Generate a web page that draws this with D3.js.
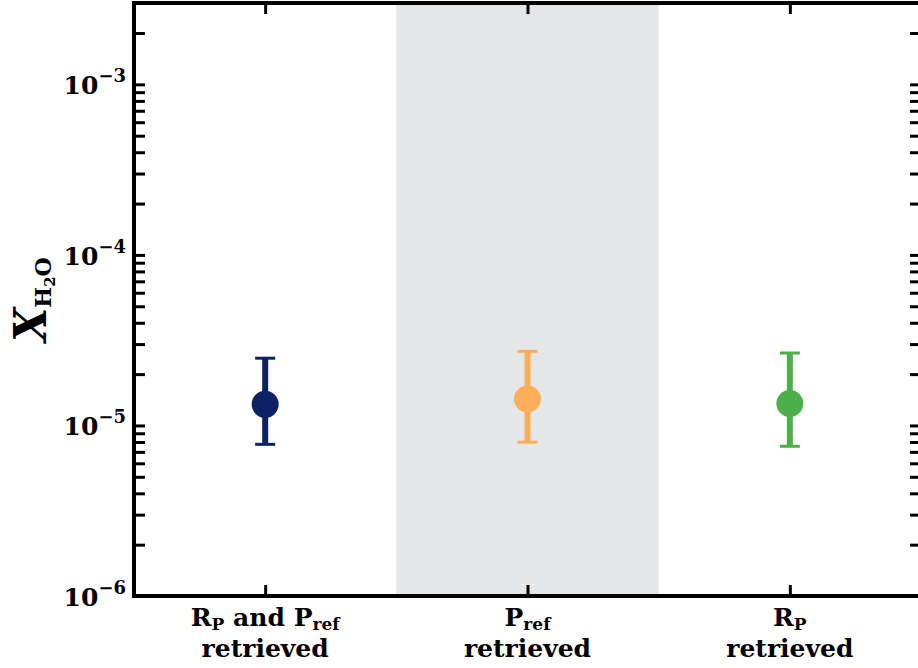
<!DOCTYPE html>
<html>
<head>
<meta charset="utf-8">
<script src="https://cdn.jsdelivr.net/npm/d3@7"></script>
<style>
  body { margin: 0; background: #fff; }
  svg text { font-family: "DejaVu Serif", "Liberation Serif", serif; fill: #000; }
</style>
</head>
<body>
<div id="chart"></div>
<script>
const width = 918;
const height = 668;

// retrieval setups (x categories)
const categories = ["RP_and_Pref", "Pref", "RP"];
const labelLine1 = [
  [["R", false], ["P", true], [" and ", false], ["P", false], ["ref", true]],
  [["P", false], ["ref", true]],
  [["R", false], ["P", true]]
];
const labelLine2 = ["retrieved", "retrieved", "retrieved"];

// water abundance: median and 1-sigma bounds
const medians = [1.33e-5, 1.43e-5, 1.345e-5];
const upper = [2.48e-5, 2.72e-5, 2.66e-5];
const lower = [7.75e-6, 7.98e-6, 7.55e-6];
const colors = ["#0b2265", "#fcae58", "#4daf4a"];

// shaded band spans the middle category
const bandRange = [0.5, 1.5];

const yDomain = [1e-6, 3e-3];
const yMajor = [1e-6, 1e-5, 1e-4, 1e-3];
const yExponents = ["−6", "−5", "−4", "−3"];

const margin = { left: 134, top: 3, right: -3, bottom: 72 };

const svg = d3.select("#chart").append("svg")
  .attr("width", width)
  .attr("height", height);

const x = d3.scaleLinear()
  .domain([-0.5, 2.5])
  .range([margin.left, width - margin.right]);

const y = d3.scaleLog()
  .domain(yDomain)
  .range([height - margin.bottom, margin.top]);

const plotTop = y.range()[1];
const plotBottom = y.range()[0];

// grey band
svg.append("rect")
  .attr("x", x(bandRange[0]))
  .attr("y", plotTop)
  .attr("width", x(bandRange[1]) - x(bandRange[0]))
  .attr("height", plotBottom - plotTop)
  .attr("fill", "#e5e6e8");

// error bars + markers
const pts = svg.append("g").selectAll("g")
  .data(categories.map((c, i) => ({ i, med: medians[i], hi: upper[i], lo: lower[i], col: colors[i] })))
  .enter().append("g");

pts.append("line")
  .attr("x1", d => x(d.i)).attr("x2", d => x(d.i))
  .attr("y1", d => y(d.hi)).attr("y2", d => y(d.lo))
  .attr("stroke", d => d.col)
  .attr("stroke-width", 6);

pts.selectAll(".cap")
  .data(d => [d.hi, d.lo].map(v => ({ v, i: d.i, col: d.col })))
  .enter().append("line")
  .attr("class", "cap")
  .attr("x1", d => x(d.i) - 10).attr("x2", d => x(d.i) + 10)
  .attr("y1", d => y(d.v)).attr("y2", d => y(d.v))
  .attr("stroke", d => d.col)
  .attr("stroke-width", 3);

pts.append("circle")
  .attr("cx", d => x(d.i))
  .attr("cy", d => y(d.med))
  .attr("r", 13.5)
  .attr("fill", d => d.col);

// axes, ticks pointing inward
const tickLen = 11;
const yTicks = y.ticks();

const axLeft = svg.append("g")
  .attr("transform", `translate(${x.range()[0]},0)`)
  .call(d3.axisLeft(y).tickValues(yTicks).tickSize(-tickLen).tickFormat(""));
const axRight = svg.append("g")
  .attr("transform", `translate(${x.range()[1]},0)`)
  .call(d3.axisRight(y).tickValues(yTicks).tickSize(-tickLen).tickFormat(""));
const axTop = svg.append("g")
  .attr("transform", `translate(0,${plotTop})`)
  .call(d3.axisTop(x).tickValues([0, 1, 2]).tickSize(-tickLen).tickFormat(""));
const axBottom = svg.append("g")
  .attr("transform", `translate(0,${plotBottom})`)
  .call(d3.axisBottom(x).tickValues([0, 1, 2]).tickSize(-tickLen).tickFormat(""));

[axLeft, axRight, axTop, axBottom].forEach(a => {
  a.select(".domain").remove();
  a.selectAll(".tick line").attr("stroke", "#000").attr("stroke-width", 3);
});

// frame
svg.append("rect")
  .attr("x", x.range()[0])
  .attr("y", plotTop)
  .attr("width", x.range()[1] - x.range()[0])
  .attr("height", plotBottom - plotTop)
  .attr("fill", "none")
  .attr("stroke", "#000")
  .attr("stroke-width", 4);

// y tick labels 10^n
const yLab = svg.append("g").selectAll("text")
  .data(yMajor)
  .enter().append("text")
  .attr("x", x.range()[0] - 8)
  .attr("y", d => y(d) + 10)
  .attr("text-anchor", "end")
  .style("font-weight", "bold")
  .style("font-size", "25px");
yLab.append("tspan").text("10");
yLab.append("tspan")
  .attr("dy", -12)
  .style("font-size", "18px")
  .text((d, i) => yExponents[i]);

// x tick labels, two lines in one text
const xLab = svg.append("g").selectAll("text")
  .data(categories)
  .enter().append("text")
  .attr("transform", (d, i) => `translate(${x(i)},${plotBottom + 30})`)
  .attr("text-anchor", "middle")
  .style("font-weight", "bold")
  .style("font-size", "25px");
xLab.each(function (d, i) {
  const t = d3.select(this);
  let sub = false;
  labelLine1[i].forEach(([s, isSub]) => {
    const ts = t.append("tspan").text(s);
    if (isSub && !sub) { ts.attr("dy", 4).style("font-size", "17px"); sub = true; }
    else if (isSub) { ts.style("font-size", "17px"); }
    else if (sub) { ts.attr("dy", -4); sub = false; }
  });
  t.append("tspan")
    .attr("x", 0)
    .attr("dy", sub ? 27 : 31)
    .text(labelLine2[i]);
});

// y axis title: X_{H2O}
const yTitle = svg.append("text")
  .attr("transform", `translate(46,${(plotTop + plotBottom) / 2}) rotate(-90)`)
  .attr("text-anchor", "middle")
  .style("font-weight", "bold");
yTitle.append("tspan").style("font-size", "44px").style("font-style", "italic").text("X");
yTitle.append("tspan").attr("dy", 5).style("font-size", "22px").text("H");
yTitle.append("tspan").attr("dy", 4).style("font-size", "15px").text("2");
yTitle.append("tspan").attr("dy", -4).style("font-size", "22px").text("O");
</script>
</body>
</html>
